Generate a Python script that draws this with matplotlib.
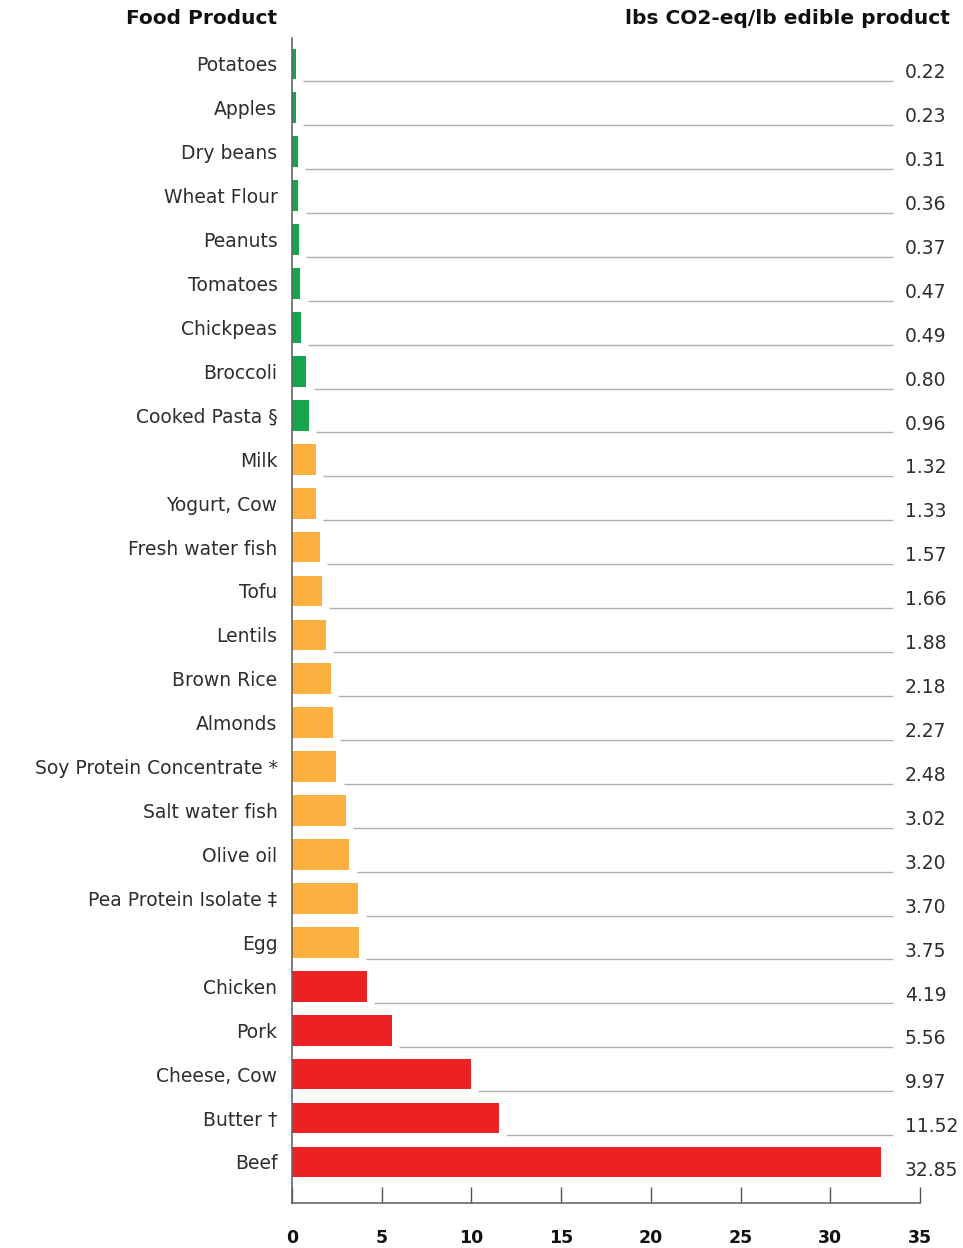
"""
Greenhouse gas footprint of food products, horizontal bar chart.
"""
import matplotlib
matplotlib.use('Agg')
import matplotlib.pyplot as plt

# ── Data ─────────────────────────────────────────────────────────────────────
foods = ['Potatoes', 'Apples', 'Dry beans', 'Wheat Flour', 'Peanuts', 'Tomatoes',
         'Chickpeas', 'Broccoli', 'Cooked Pasta §', 'Milk', 'Yogurt, Cow',
         'Fresh water fish', 'Tofu', 'Lentils', 'Brown Rice', 'Almonds',
         'Soy Protein Concentrate *', 'Salt water fish', 'Olive oil',
         'Pea Protein Isolate ‡', 'Egg', 'Chicken', 'Pork', 'Cheese, Cow',
         'Butter †', 'Beef']
values = [0.22, 0.23, 0.31, 0.36, 0.37, 0.47, 0.49, 0.80, 0.96, 1.32, 1.33,
          1.57, 1.66, 1.88, 2.18, 2.27, 2.48, 3.02, 3.20, 3.70, 3.75, 4.19,
          5.56, 9.97, 11.52, 32.85]
groups = ['low'] * 9 + ['mid'] * 12 + ['high'] * 5
x_ticks = [0, 5, 10, 15, 20, 25, 30, 35]
# ─────────────────────────────────────────────────────────────────────────────

palette = {'low': '#15A64D', 'mid': '#FBB040', 'high': '#ED2024'}
plt.rcParams['font.family'] = ['DejaVu Sans']

fig = plt.figure(figsize=(9.63, 12.48), dpi=100)
n = len(values)
ax = fig.add_axes([0.3032, 0.0361, 0.9553 - 0.3032, 0.9696 - 0.0361])

ypos = list(range(n))
colors = [palette[g] for g in groups]
ax.barh(ypos, values, height=0.7, color=colors, zorder=2)

# leader lines and value labels (no leader when the bar almost reaches the end)
LINE_END = 33.5
for y, v in zip(ypos, values):
    start = v + 0.4
    if start < LINE_END - 1:
        ax.plot([start, LINE_END], [y + 0.39, y + 0.39], color='#b0b0b0',
                linewidth=1.0, zorder=1, solid_capstyle='butt')
    ax.text(34.17, y + 0.2, f'{v:.2f}', ha='left', va='center',
            fontsize=13.5, color='#2e2e2e', clip_on=False)

ax.set_ylim(n - 1 + 0.934, -0.592)
ax.set_xlim(0, 35)
ax.set_yticks(ypos)
ax.set_yticklabels(foods, fontsize=13.5, color='#2e2e2e')
ax.tick_params(axis='y', length=0, pad=10.5)
ax.set_xticks(x_ticks)
ax.set_xticklabels([str(t) for t in x_ticks], fontsize=12.5, fontweight='bold',
                   color='#111111')
ax.tick_params(axis='x', direction='in', length=11.5, width=1.0, color='#555555', pad=19)

for side in ['top', 'right']:
    ax.spines[side].set_visible(False)
for side in ['left', 'bottom']:
    ax.spines[side].set_color('#666666')
    ax.spines[side].set_linewidth(1.2)

fig.text(277 / 963, 1 - 18 / 1248, 'Food Product', ha='right', va='center',
         fontsize=14.5, fontweight='bold', color='#111111')
fig.text(950 / 963, 1 - 18 / 1248, 'lbs CO2-eq/lb edible product', ha='right',
         va='center', fontsize=14.5, fontweight='bold', color='#111111')

fig.savefig('out.png', dpi=100)
